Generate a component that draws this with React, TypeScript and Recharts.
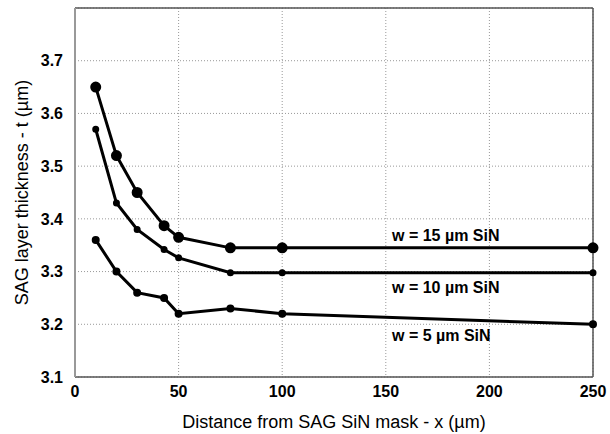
import { LineChart, Line, XAxis, YAxis, CartesianGrid, ReferenceLine, ReferenceDot } from "recharts";

// distance from mask edge (µm)
const distances = [10, 20, 30, 43, 50, 75, 100, 250];

// SAG layer thickness (µm) for each mask width
const w15 = [3.65, 3.52, 3.45, 3.387, 3.365, 3.345, 3.345, 3.345];
const w10 = [3.57, 3.43, 3.38, 3.342, 3.326, 3.298, 3.298, 3.298];
const w5 = [3.36, 3.3, 3.26, 3.25, 3.22, 3.23, 3.22, 3.2];

const xTicks = [0, 50, 100, 150, 200, 250];
const yTicks = [3.1, 3.2, 3.3, 3.4, 3.5, 3.6, 3.7];

const seriesLabels = ["w = 15 \u00b5m SiN", "w = 10 \u00b5m SiN", "w = 5 \u00b5m SiN"];
// anchor points of the labels, in data units
const labelX = [153, 153, 153];
const labelY = [3.369, 3.271, 3.18];

const data = distances.map((x, i) => ({ x, w15: w15[i], w10: w10[i], w5: w5[i] }));

const font = "'Liberation Sans', Arial, sans-serif";
const tickStyle = { fontFamily: font, fontSize: 16, fontWeight: 700, fill: "#000" };

export default function App() {
    return (
        <div style={{ width: 610, height: 434 }}>
            <style>{`body{margin:0}`}</style>
            <LineChart width={610} height={434} data={data} margin={{ top: 8, right: 17, left: 0, bottom: 0 }}>
                <CartesianGrid stroke="#999" strokeDasharray="1 2" />
                <XAxis
                    dataKey="x"
                    type="number"
                    domain={[0, 250]}
                    ticks={xTicks}
                    height={57}
                    tickLine={false}
                    tickSize={0}
                    tickMargin={9}
                    axisLine={{ stroke: "#555", strokeWidth: 1.5 }}
                    tick={tickStyle}
                    label={{
                        value: "Distance from SAG SiN mask - x (\u00b5m)",
                        position: "insideBottom",
                        offset: 6,
                        style: { fontFamily: font, fontSize: 18, fill: "#000" },
                    }}
                />
                <YAxis
                    type="number"
                    domain={[3.1, 3.8]}
                    ticks={yTicks}
                    width={75}
                    tickLine={false}
                    tickSize={0}
                    tickMargin={12}
                    axisLine={{ stroke: "#999", strokeWidth: 2 }}
                    tick={tickStyle}
                    label={{
                        value: "SAG layer thickness - t  (\u00b5m)",
                        angle: -90,
                        position: "insideLeft",
                        offset: 22,
                        style: { fontFamily: font, fontSize: 18, fill: "#000", textAnchor: "middle", whiteSpace: "pre" },
                    }}
                />
                <ReferenceLine y={3.8} stroke="#555" strokeWidth={1.5} />
                <ReferenceLine x={250} stroke="#555" strokeWidth={1.5} />
                <Line type="linear" dataKey="w5" stroke="#000" strokeWidth={3} dot={{ r: 2.5, fill: "#000", stroke: "#000" }} isAnimationActive={false} />
                <Line type="linear" dataKey="w10" stroke="#000" strokeWidth={3} dot={{ r: 2, fill: "#000", stroke: "#000" }} isAnimationActive={false} />
                <Line type="linear" dataKey="w15" stroke="#000" strokeWidth={3} dot={{ r: 4, fill: "#000", stroke: "#000" }} isAnimationActive={false} />
                {seriesLabels.map((text, i) => (
                    <ReferenceDot
                        key={text}
                        x={labelX[i]}
                        y={labelY[i]}
                        r={0}
                        stroke="none"
                        fill="none"
                        label={{
                            value: text,
                            position: "right",
                            offset: 0,
                            style: { fontFamily: font, fontSize: 16, fontWeight: 700, fill: "#000" },
                        }}
                    />
                ))}
            </LineChart>
        </div>
    );
}
